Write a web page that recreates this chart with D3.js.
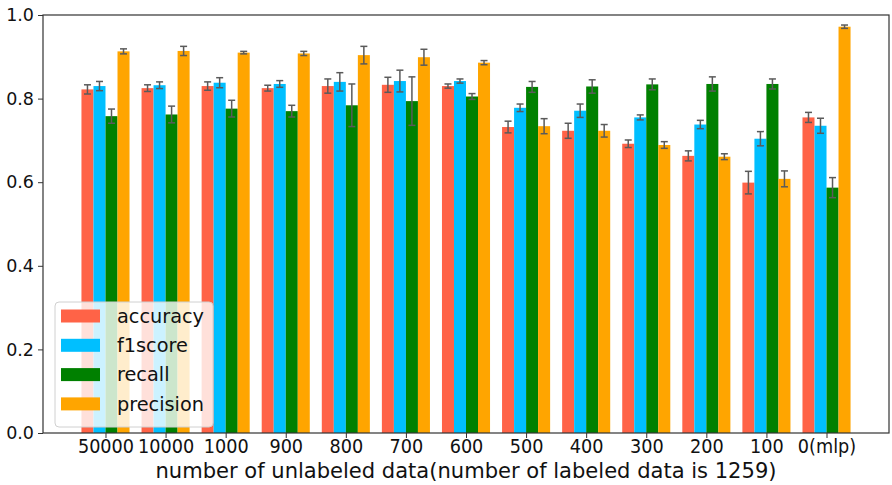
<!DOCTYPE html>
<html><head><meta charset="utf-8">
<script src="https://cdn.jsdelivr.net/npm/d3@7"></script>
<style>body{margin:0;background:#fff}svg{display:block}</style>
</head><body>
<svg id="c" width="892" height="485"></svg>
<script>
const categories = ["50000","10000","1000","900","800","700","600","500","400","300","200","100","0(mlp)"];
const seriesNames = ["accuracy","f1score","recall","precision"];
const seriesColors = ["#ff6347","#00bfff","#008000","#ffa500"];
const accuracy  = [0.822,0.825,0.830,0.825,0.830,0.833,0.830,0.732,0.723,0.692,0.663,0.599,0.755];
const f1score   = [0.830,0.832,0.838,0.835,0.840,0.842,0.842,0.778,0.771,0.755,0.738,0.704,0.735];
const recall    = [0.758,0.762,0.776,0.770,0.784,0.794,0.805,0.828,0.829,0.834,0.835,0.835,0.587];
const precision = [0.913,0.914,0.910,0.908,0.904,0.899,0.886,0.734,0.723,0.689,0.661,0.608,0.972];
const accuracyErr  = [0.011,0.008,0.010,0.007,0.017,0.018,0.005,0.014,0.018,0.009,0.012,0.027,0.012];
const f1scoreErr   = [0.011,0.008,0.012,0.008,0.022,0.026,0.005,0.009,0.016,0.006,0.010,0.017,0.018];
const recallErr    = [0.017,0.020,0.020,0.014,0.051,0.058,0.007,0.013,0.016,0.013,0.017,0.012,0.024];
const precisionErr = [0.006,0.011,0.003,0.005,0.021,0.019,0.005,0.018,0.015,0.008,0.007,0.019,0.004];
const yTicks = [0.0,0.2,0.4,0.6,0.8,1.0];
const xLabel = "number of unlabeled data(number of labeled data is 1259)";

const values = [accuracy,f1score,recall,precision];
const errs = [accuracyErr,f1scoreErr,recallErr,precisionErr];

const svg = d3.select("#c");
const L=43, R=889, T=15, B=433;
const barW = 0.2;
const x = d3.scaleLinear().domain([-1.04, 13.04]).range([L, R]);
const y = d3.scaleLinear().domain([0,1]).range([B, T]);

// bars
const data = [];
categories.forEach((c,i)=>{
  values.forEach((s,k)=>{
    data.push({i,k,v:s[i],e:errs[k][i]});
  });
});
const off = k => (k-1.5)*barW;
svg.append("g").selectAll("rect").data(data).join("rect")
  .attr("x", d=>x(d.i+off(d.k)-barW/2))
  .attr("width", d=>x(d.i+off(d.k)+barW/2)-x(d.i+off(d.k)-barW/2))
  .attr("y", d=>y(d.v))
  .attr("height", d=>y(0)-y(d.v))
  .attr("fill", d=>seriesColors[d.k]);

// error bars
const eg = svg.append("g").attr("stroke","#5a5a5a").attr("stroke-width",1.5).attr("fill","none");
data.forEach(d=>{
  const cx = x(d.i+off(d.k));
  eg.append("line").attr("x1",cx).attr("x2",cx).attr("y1",y(d.v-d.e)).attr("y2",y(d.v+d.e));
  eg.append("line").attr("x1",cx-3.5).attr("x2",cx+3.5).attr("y1",y(d.v-d.e)).attr("y2",y(d.v-d.e));
  eg.append("line").attr("x1",cx-3.5).attr("x2",cx+3.5).attr("y1",y(d.v+d.e)).attr("y2",y(d.v+d.e));
});

// axes
const font = "DejaVu Sans, sans-serif";
const yAxis = svg.append("g").attr("transform",`translate(${L},0)`)
  .call(d3.axisLeft(y).tickValues(yTicks).tickFormat(d3.format(".1f")).tickSize(5).tickPadding(4));
yAxis.select(".domain").remove();
yAxis.selectAll("text").attr("font-family",font).attr("font-size",17.5).attr("fill","#111");
yAxis.selectAll("line").attr("stroke","#333");

const xAxis = svg.append("g").attr("transform",`translate(0,${B})`)
  .call(d3.axisBottom(x).tickValues(d3.range(categories.length)).tickFormat(i=>categories[i]).tickSize(5).tickPadding(2));
xAxis.select(".domain").remove();
xAxis.selectAll("line").attr("stroke","#333");
xAxis.selectAll(".tick text").attr("font-family",font).attr("font-size",19).attr("fill","#111")
  .attr("transform","scale(0.93,1)");

// frame
svg.append("rect").attr("x",L).attr("y",T).attr("width",R-L).attr("height",B-T)
  .attr("fill","none").attr("stroke","#333").attr("stroke-width",1.2);

// x label
svg.append("text").attr("x",(L+R)/2-0).attr("y",478)
  .attr("text-anchor","middle").attr("font-family",font).attr("font-size",21).attr("fill","#111")
  .attr("textLength",621).attr("lengthAdjust","spacingAndGlyphs")
  .text(xLabel);

// legend
const lg = svg.append("g");
lg.append("rect").attr("x",55).attr("y",302).attr("width",158).attr("height",125).attr("rx",4)
  .attr("fill","#fff").attr("fill-opacity",0.8).attr("stroke","#d0d0d0").attr("stroke-width",1);
seriesNames.forEach((n,k)=>{
  const cy = 316 + k*29.3;
  lg.append("rect").attr("x",61).attr("y",cy-6.5).attr("width",39).attr("height",13).attr("fill",seriesColors[k]);
  lg.append("text").attr("x",117).attr("y",cy).attr("dy","0.35em").attr("font-family",font)
    .attr("font-size",19.3).attr("fill","#111").text(n);
});
</script>
</body></html>
